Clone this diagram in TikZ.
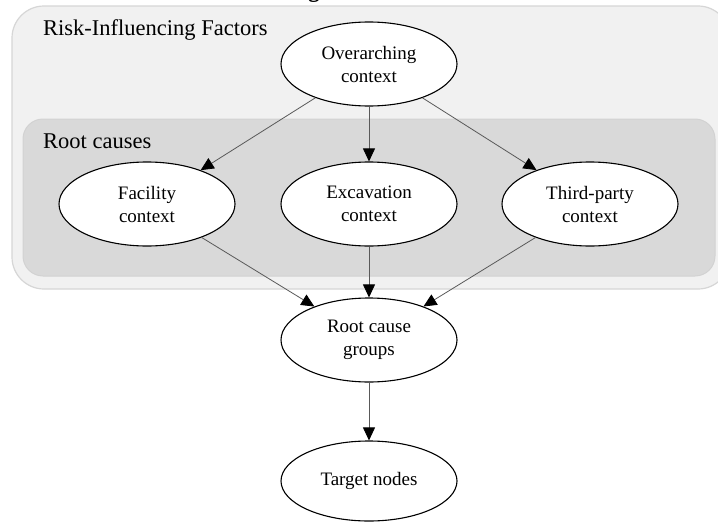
\documentclass[tikz,border=0pt]{standalone}
\usepackage{fontspec}
\setmainfont{Liberation Serif}
\usetikzlibrary{arrows.meta,shapes.geometric}

\definecolor{outerfill}{HTML}{F1F1F1}
\definecolor{outerline}{HTML}{D6D6D6}
\definecolor{innerfill}{HTML}{D9D9D9}
\definecolor{innerline}{HTML}{D2D2D2}

\tikzset{
  ctx/.style={ellipse, draw=black, line width=1.1pt, fill=white,
              minimum width=176pt, minimum height=84pt, inner sep=0pt,
              align=center, font=\fontsize{19}{23}\selectfont},
  grouplabel/.style={anchor=base west, inner sep=0pt, font=\fontsize{22.5}{26}\selectfont},
  infl/.style={draw=black!65, line width=0.8pt,
               -{Triangle[length=13pt,width=12pt,color=black]}}
}

\begin{document}
\begin{tikzpicture}[x=1pt,y=-1pt]
\useasboundingbox (0,0) rectangle (718,522);

% title, cut off at the top
\node[anchor=base, inner sep=0pt, font=\fontsize{22.5}{26}\selectfont\bfseries] (cut) at (314,-2) {g};

% groups
\draw[draw=outerline, fill=outerfill, line width=1.2pt, rounded corners=32pt] (12,6) rectangle (730,289);
\draw[draw=innerline, fill=innerfill, line width=1pt, rounded corners=20pt] (23,119) rectangle (715,276);
\node[grouplabel] (rif) at (43,35) {Risk-Influencing Factors};
\node[grouplabel] (rc) at (43,148) {Root causes};

% nodes
\node[ctx] (over) at (369,64) {Overarching\\context};
\node[ctx] (fac) at (147,204) {Facility\\context};
\node[ctx] (exc) at (369,204) {Excavation\\context};
\node[ctx] (third) at (590,204) {Third-party\\context};
\node[ctx] (groups) at (369,340) {Root cause\\groups};
\node[ctx, minimum height=80pt] (target) at (369,481) {Target nodes};

% edges
\draw[infl] (over) -- (fac);
\draw[infl] (over) -- (exc);
\draw[infl] (over) -- (third);
\draw[infl] (fac) -- (groups);
\draw[infl] (exc) -- (groups);
\draw[infl] (third) -- (groups);
\draw[infl] (groups) -- (target);
\end{tikzpicture}
\end{document}
